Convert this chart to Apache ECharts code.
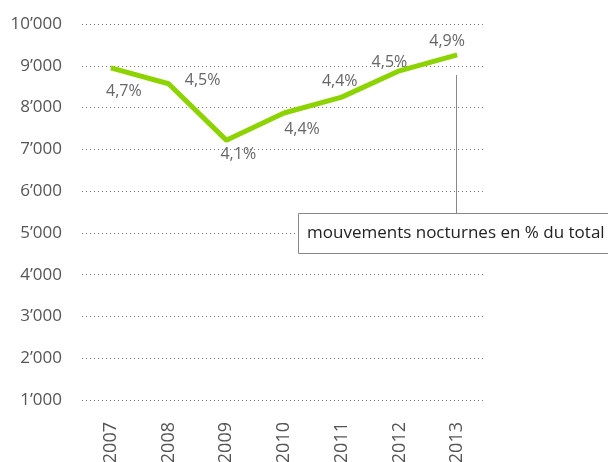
<!DOCTYPE html>
<html>
<head>
<meta charset="utf-8">
<script src="https://cdn.jsdelivr.net/npm/echarts@6/dist/echarts.min.js"></script>
<style>
html, body { margin: 0; padding: 0; background: #fff; }
#main { width: 608px; height: 462px; }
</style>
</head>
<body>
<div id="main"></div>
<script>
// données
var years = ['2007', '2008', '2009', '2010', '2011', '2012', '2013'];
var mouvements = [8950, 8570, 7220, 7870, 8250, 8880, 9260];
var pourcents = ['4,7%', '4,5%', '4,1%', '4,4%', '4,4%', '4,5%', '4,9%'];
// position des étiquettes [dx, dy]
var labelOffsets = [[13, 37], [34, 10], [12, 28], [18, 30], [-2, -2], [-10, 5], [-10, 0]];

var font = 'Open Sans';

function fmt(v) {
	var s = String(v);
	if (s.length > 3) {
		s = s.slice(0, s.length - 3) + '\u2019' + s.slice(s.length - 3);
	}
	return s;
}

var data = [];
for (var i = 0; i < years.length; i++) {
	data.push({
		value : mouvements[i],
		label : {
			formatter : pourcents[i],
			offset : labelOffsets[i]
		}
	});
}

var myChart = echarts.init(document.getElementById('main'));
myChart.setOption({
	animation : false,
	grid : {
		left : 82,
		right : 122,
		top : 24,
		bottom : 62,
		containLabel : false,
		outerBoundsMode : 'none'
	},
	xAxis : {
		type : 'category',
		data : years,
		boundaryGap : true,
		axisLine : { show : false },
		axisTick : { show : false },
		axisLabel : {
			rotate : 90,
			margin : 22,
			color : '#555',
			fontFamily : font,
			fontSize : 18
		}
	},
	yAxis : {
		type : 'value',
		min : 1000,
		max : 10000,
		interval : 1000,
		axisLine : { show : false },
		axisTick : { show : false },
		axisLabel : {
			margin : 20,
			color : '#555',
			fontFamily : font,
			fontSize : 17,
			formatter : fmt
		},
		splitLine : {
			lineStyle : {
				type : [1, 3],
				color : '#777',
				width : 1
			}
		}
	},
	series : [ {
		type : 'line',
		data : data,
		symbol : 'circle',
		symbolSize : 1,
		showSymbol : true,
		itemStyle : {
			color : 'rgba(0,0,0,0)'
		},
		lineStyle : {
			color : '#8cd300',
			width : 5
		},
		label : {
			show : true,
			position : 'top',
			color : '#666',
			fontFamily : font,
			fontSize : 16
		}
	} ],
	graphic : [ {
		type : 'line',
		z : 100,
		shape : { x1 : 456.5, y1 : 75, x2 : 456.5, y2 : 213 },
		style : { stroke : '#888', lineWidth : 1 }
	}, {
		type : 'rect',
		z : 100,
		shape : { x : 298.5, y : 213.5, width : 320, height : 40 },
		style : { fill : '#fff', stroke : '#888', lineWidth : 1 }
	}, {
		type : 'text',
		z : 101,
		x : 307,
		y : 233,
		style : {
			text : 'mouvements nocturnes en % du total',
			fill : '#222',
			font : '17px "Open Sans"',
			verticalAlign : 'middle'
		}
	} ]
});
</script>
</body>
</html>
